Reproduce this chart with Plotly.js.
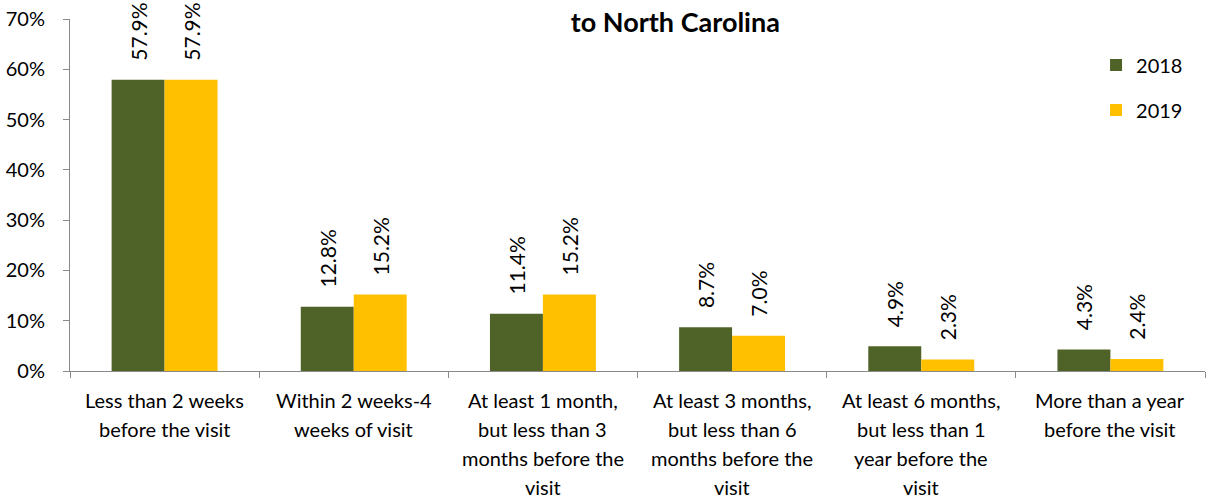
<!DOCTYPE html>
<html><head><meta charset="utf-8">
<script src="https://cdn.plot.ly/plotly-3.0.1.min.js"></script>
<style>html,body{margin:0;padding:0;background:#fff}#chart{width:1206px;height:499px}</style>
</head><body><div id="chart"></div>
<script>
const categories = [
  "Less than 2 weeks<br>before the visit",
  "Within 2 weeks-4<br>weeks of visit",
  "At least 1 month,<br>but less than 3<br>months before the<br>visit",
  "At least 3 months,<br>but less than 6<br>months before the<br>visit",
  "At least 6 months,<br>but less than 1<br>year before the<br>visit",
  "More than a year<br>before the visit"
];
const values2018 = [57.9, 12.8, 11.4, 8.7, 4.9, 4.3];
const values2019 = [57.9, 15.2, 15.2, 7.0, 2.3, 2.4];
const yTickVals = [0, 10, 20, 30, 40, 50, 60, 70];
const yTickText = ["0%", "10%", "20%", "30%", "40%", "50%", "60%", "70%"];

const font = "Lato, 'Open Sans', sans-serif";
function mk(name, vals, color, grp) {
  return {
    type: "bar", name: name, x: categories, y: vals,
    marker: {color: color},
    text: vals.map(v => "\u00a0\u00a0\u00a0" + v.toFixed(1) + "%"),
    textposition: "outside", textangle: -90,
    textfont: {family: font, size: 21, color: "#000"},
    constraintext: "none", cliponaxis: false,
    legendgroup: grp
  };
}
const data = [mk("2018", values2018, "#4F6228", "a"), mk("2019", values2019, "#FFC000", "b")];

const annotations = [];
categories.forEach(function (c) {
  c.split("<br>").forEach(function (line, j) {
    annotations.push({
      xref: "x", x: c, yref: "paper", y: 0, yanchor: "middle",
      yshift: -(29 + 29 * j), text: line, showarrow: false,
      font: {family: font, size: 20, color: "#000"}
    });
  });
});

const layout = {
  width: 1206, height: 499,
  margin: {l: 70, r: 1, t: 19, b: 128},
  paper_bgcolor: "#fff", plot_bgcolor: "#fff",
  font: {family: font, size: 20, color: "#000"},
  title: {text: "<b>to North Carolina</b>", xref: "container", x: 0.56, xanchor: "center",
          yref: "container", y: 0.955, yanchor: "middle",
          font: {family: font, size: 27, color: "#000"}},
  bargap: 0.44, bargroupgap: 0,
  barmode: "group",
  annotations: annotations,
  xaxis: {
    type: "category", tickson: "boundaries", ticks: "outside", ticklen: 6,
    tickcolor: "#898989", showline: true, linecolor: "#898989", linewidth: 1,
    showticklabels: false, showgrid: false
  },
  yaxis: {
    range: [0, 70], tickvals: yTickVals, ticktext: yTickText,
    ticks: "outside", ticklen: 6, tickcolor: "#898989", ticklabelstandoff: 14,
    showline: true, linecolor: "#898989", linewidth: 1, showgrid: false, zeroline: false,
    tickfont: {family: font, size: 20, color: "#000"}
  },
  showlegend: true,
  legend: {x: 0.904, xanchor: "left", y: 0.925, yanchor: "top", tracegroupgap: 16,
           font: {family: font, size: 20, color: "#000"}, bgcolor: "rgba(0,0,0,0)"}
};
Plotly.newPlot("chart", data, layout, {displayModeBar: false, staticPlot: true});
</script></body></html>
